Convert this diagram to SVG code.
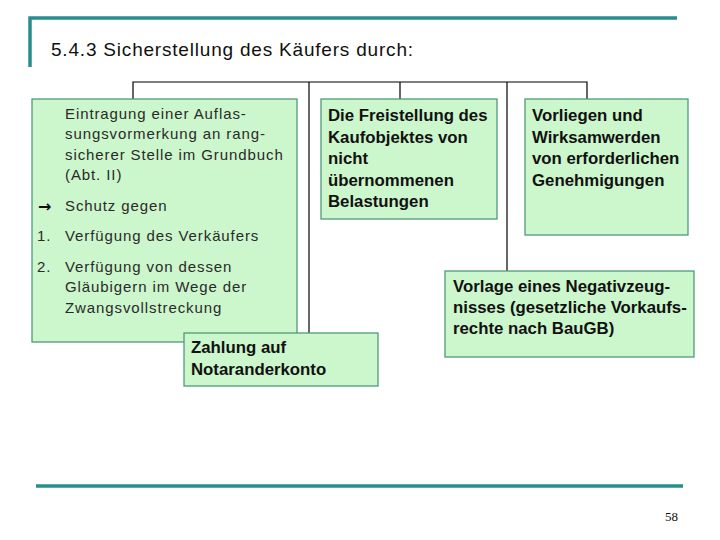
<svg xmlns="http://www.w3.org/2000/svg" width="720" height="540" viewBox="0 0 720 540">
<style>
.box{fill:#ccf6cc;stroke:#4f9a7c;stroke-width:1.3}
.t1{font-family:"Liberation Sans",Arial,sans-serif;font-size:15px;fill:#2a2a2a;letter-spacing:0.9px}
.t2{font-family:"Liberation Sans",Arial,sans-serif;font-size:16.8px;font-weight:bold;fill:#111}
.conn{stroke:#000;stroke-width:1.2;fill:none}
.teal{stroke:#2a8d8d;stroke-width:3.5;fill:none}
</style>
<rect width="720" height="540" fill="#fff"/>
<g id="frame">
<path class="teal" d="M30,67 V18 H677"/>
<line class="teal" x1="36" y1="486" x2="683" y2="486"/>
<text x="51" y="56" font-family="'Liberation Sans',Arial,sans-serif" font-size="19px" letter-spacing="0.8px" fill="#111">5.4.3 Sicherstellung des Käufers durch:</text>
<text x="665" y="521" font-family="'Liberation Serif',serif" font-size="13px" fill="#111">58</text>
</g>
<g id="connectors">
<path class="conn" d="M133,99 V82 H587 V99"/>
<line class="conn" x1="309" y1="82" x2="309" y2="333"/>
<line class="conn" x1="400" y1="82" x2="400" y2="99"/>
<line class="conn" x1="507" y1="82" x2="507" y2="271"/>
</g>
<g id="node-auflassung">
<rect class="box" x="32" y="99" width="265" height="243"/>
<text class="t1" x="65" y="119">Eintragung einer Auflas-</text>
<text class="t1" x="65" y="139">sungsvormerkung an rang-</text>
<text class="t1" x="65" y="160">sicherer Stelle im Grundbuch</text>
<text class="t1" x="65" y="180">(Abt. II)</text>
<text x="38" y="212" font-family="'DejaVu Sans',sans-serif" font-size="16px" font-weight="bold" fill="#111">→</text>
<text class="t1" x="65" y="211">Schutz gegen</text>
<text class="t1" x="37" y="241">1.</text>
<text class="t1" x="65" y="241">Verfügung des Verkäufers</text>
<text class="t1" x="37" y="272">2.</text>
<text class="t1" x="65" y="272">Verfügung von dessen</text>
<text class="t1" x="65" y="292">Gläubigern im Wege der</text>
<text class="t1" x="65" y="313">Zwangsvollstreckung</text>
</g>
<g id="node-freistellung">
<rect class="box" x="321" y="99" width="176" height="120"/>
<text class="t2" x="328" y="121">Die Freistellung des</text>
<text class="t2" x="328" y="143">Kaufobjektes von</text>
<text class="t2" x="328" y="164">nicht</text>
<text class="t2" x="328" y="186">übernommenen</text>
<text class="t2" x="328" y="207">Belastungen</text>
</g>
<g id="node-genehmigungen">
<rect class="box" x="525" y="99" width="163" height="136"/>
<text class="t2" x="532" y="121">Vorliegen und</text>
<text class="t2" x="532" y="143">Wirksamwerden</text>
<text class="t2" x="532" y="164">von erforderlichen</text>
<text class="t2" x="532" y="186">Genehmigungen</text>
</g>
<g id="node-zahlung">
<rect class="box" x="184" y="333" width="194" height="53"/>
<text class="t2" x="191" y="353">Zahlung auf</text>
<text class="t2" x="191" y="375">Notaranderkonto</text>
</g>
<g id="node-negativzeugnis">
<rect class="box" x="445" y="271" width="249" height="86"/>
<text class="t2" x="453" y="292">Vorlage eines Negativzeug-</text>
<text class="t2" x="453" y="313">nisses (gesetzliche Vorkaufs-</text>
<text class="t2" x="453" y="334">rechte nach BauGB)</text>
</g>
</svg>
